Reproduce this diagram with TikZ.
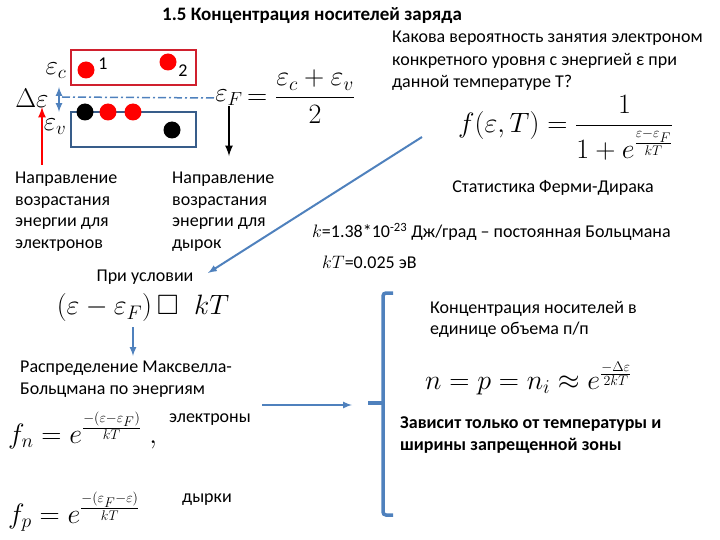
\RequirePackage{fix-cm}
\documentclass[tikz,border=0pt]{standalone}
\usepackage{amsmath, amssymb}
\usepackage[no-math]{fontspec}
\setmainfont{Carlito}
\usepackage{xcolor}
\usepackage{tikz}

\definecolor{accent}{HTML}{4F81BD}
\definecolor{bandred}{HTML}{D0202E}
\definecolor{bandblue}{HTML}{385D8A}

\begin{document}
\begin{tikzpicture}[
                x=1pt, y=-1pt,
                txt/.style={font=\fontsize{18}{21.5}\selectfont, align=left, inner sep=0pt},
                formula/.style={font=\fontsize{28}{32}\selectfont, inner sep=0pt},
                small/.style={font=\fontsize{27}{30}\selectfont, inner sep=0pt},
                edot/.style={circle, fill=red, minimum size=17pt, inner sep=0pt},
                hdot/.style={circle, fill=black, minimum size=17pt, inner sep=0pt},
                flow/.style={->, >=latex, draw=accent, line width=2pt}
            ]
                \useasboundingbox (0,0) rectangle (720,540);

                % Заголовок
                \node[txt, font=\fontsize{19}{22}\selectfont\bfseries] (title) at (312,16) {1.5 Концентрация носителей заряда};

                % Зоны (прямоугольники)
                \draw[bandred, line width=2pt] (71,50) rectangle (196,85);
                \draw[bandblue, line width=2pt] (71,112) rectangle (196,147);

                % Электроны и дырки
                \node[edot] (E1) at (86,70) {};
                \node[edot] (E2) at (168,62) {};
                \node[hdot] (H1) at (85,112) {};
                \node[edot] (E3) at (108,112) {};
                \node[edot] (E4) at (133,112) {};
                \node[hdot] (H2) at (172,130) {};
                \node[txt] (n1) at (103,64) {1};
                \node[txt] (n2) at (183,71) {2};

                % Уровни энергии
                \node[small] (Ec) at (56,71) {$\varepsilon_c$};
                \node[small] (dE) at (32,98) {$\Delta\varepsilon$};
                \node[small] (Ev) at (55,127) {$\varepsilon_v$};
                \node[small] (EF) at (229,98) {$\varepsilon_F$};
                \node[formula, anchor=west] (EFval) at (247,97) {$=\dfrac{\varepsilon_c+\varepsilon_v}{2}$};
                \draw[accent, line width=1.5pt, dash pattern=on 8pt off 3pt on 2pt off 3pt] (62,97) -- (EF.west);
                \draw[<->, >=latex, accent, line width=2pt] (59,87) -- (59,112);

                % Направления возрастания энергии
                \node[txt, anchor=north west] (elec) at (15,172) {Направление\\возрастания\\энергии для\\электронов};
                \node[txt, anchor=north west] (hole) at (172,172) {Направление\\возрастания\\энергии для\\дырок};
                \coordinate (elecUp) at (42,107);
                \coordinate (elecTail) at (42,165);
                \draw[->, >=latex, red, line width=2.5pt] (elecTail) -- (elecUp);
                \draw[->, >=latex, black, line width=2.5pt] (EF.south) -- ++(0,50) coordinate (holeHead);

                % Статистика Ферми-Дирака
                \node[txt, anchor=north west, font=\fontsize{18}{22.5}\selectfont] (quest) at (392,31) {Какова вероятность занятия электроном\\конкретного уровня с энергией ε при\\данной температуре Т?};
                \node[formula, anchor=west] (fermi) at (458,128) {$f(\varepsilon,T)=\dfrac{1}{1+e^{\frac{\varepsilon-\varepsilon_F}{kT}}}$};
                \node[txt] (fdname) at (553,188) {Статистика Ферми-Дирака};
                \node[txt, anchor=west] (kconst) at (312,232) {$k$=1.38*10\textsuperscript{-23} Дж/град – постоянная Больцмана};
                \node[txt, anchor=west] (kT) at (322,262) {$kT$=0.025 эВ};

                % Условие и распределение Максвелла-Больцмана
                \coordinate (condTail) at (422,137);
                \node[txt] (cond) at (145,277) {При условии};
                \node[formula] (condF) at (143,308) {$(\varepsilon-\varepsilon_F)\,\square\;\;kT$};
                \coordinate (condHead) at (208,273);
                \draw[flow] (condTail) -- (condHead);
                \node[txt, anchor=north west] (mb) at (20,361) {Распределение Максвелла-\\Больцмана по энергиям};
                \coordinate (mbUp) at (133,327);
                \coordinate (mbDown) at (133,356);
                \draw[flow] (mbUp) -- (mbDown);
                \node[formula, anchor=west] (fn) at (8,430) {$f_n=e^{\frac{-(\varepsilon-\varepsilon_F)}{kT}}\;,$};
                \node[txt] (fnname) at (210,420) {электроны};
                \node[formula, anchor=west] (fp) at (8,512) {$f_p=e^{\frac{-(\varepsilon_F-\varepsilon)}{kT}}$};
                \node[txt] (fpname) at (207,500) {дырки};

                % Концентрация носителей
                \draw[accent, line width=3.5pt, rounded corners=3pt] (393,293) -- (383,293) -- (383,515) -- (393,515);
                \draw[accent, line width=3.5pt] (383,403) -- (368,403);
                \coordinate (mbTail) at (262,405);
                \coordinate (brkHead) at (352,405);
                \draw[flow] (mbTail) -- (brkHead);
                \node[txt, anchor=north west] (conc) at (430,301) {Концентрация носителей в\\единице объема п/п};
                \node[formula, anchor=west] (nform) at (425,378) {$n=p=n_i\approx e^{\frac{-\Delta\varepsilon}{2kT}}$};
                \node[txt, anchor=north west, font=\fontsize{18}{22}\selectfont\bfseries] (dep) at (400,417) {Зависит только от температуры и\\ширины запрещенной зоны};
            \end{tikzpicture}
\end{document}
